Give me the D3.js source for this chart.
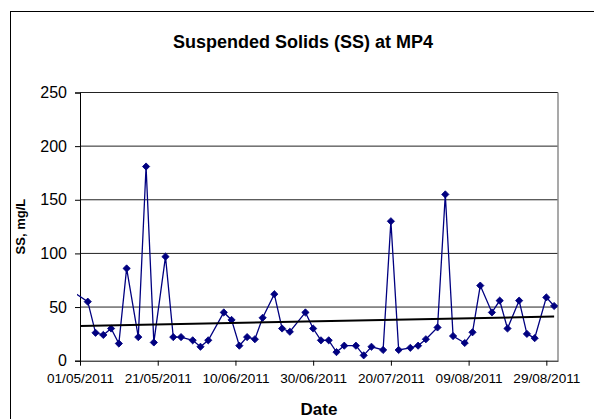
<!DOCTYPE html>
<html>
<head>
<meta charset="utf-8">
<script src="https://cdn.jsdelivr.net/npm/d3@7"></script>
<style>
  body { margin: 0; background: #fff; }
  text { font-family: Arial, "Liberation Sans", sans-serif; fill: #000; }
</style>
</head>
<body>
<div id="chart"></div>
<script>
// sample dates (first one lies before the axis start and is clipped)
const sampleDates = [
  "28/04/2011", "03/05/2011", "05/05/2011", "07/05/2011", "09/05/2011", "11/05/2011",
  "13/05/2011", "16/05/2011", "18/05/2011", "20/05/2011", "23/05/2011", "25/05/2011",
  "27/05/2011", "30/05/2011", "01/06/2011", "03/06/2011", "07/06/2011", "09/06/2011",
  "11/06/2011", "13/06/2011", "15/06/2011", "17/06/2011", "20/06/2011", "22/06/2011",
  "24/06/2011", "28/06/2011", "30/06/2011", "02/07/2011", "04/07/2011", "06/07/2011",
  "08/07/2011", "11/07/2011", "13/07/2011", "15/07/2011", "18/07/2011", "20/07/2011",
  "22/07/2011", "25/07/2011", "27/07/2011", "29/07/2011", "01/08/2011", "03/08/2011",
  "05/08/2011", "08/08/2011", "10/08/2011", "12/08/2011", "15/08/2011", "17/08/2011",
  "19/08/2011", "22/08/2011", "24/08/2011", "26/08/2011", "29/08/2011", "31/08/2011"
]
const ssValues = [
  67, 55, 26, 24, 30, 16,
  86, 22, 181, 17, 97, 22,
  22, 19, 13, 19, 45, 38,
  14, 22, 20, 40, 62, 30,
  27, 45, 30, 19, 19, 8,
  14, 14, 5, 13, 10, 130,
  10, 12, 14, 20, 31, 155,
  23, 16.5, 26.5, 70, 45, 56,
  30, 56, 25, 21, 59, 51
]
// linear trend line end points
const trendDates = ["01/05/2011", "31/08/2011"]
const trendValues = [32.3, 41.1]

const xDomain = ["01/05/2011", "01/09/2011"]
const xTickLabels = ["01/05/2011", "21/05/2011", "10/06/2011", "30/06/2011",
  "20/07/2011", "09/08/2011", "29/08/2011"]
const yTicks = [0, 50, 100, 150, 200, 250]

const W = 594, H = 419
const PLOT = { LEFT: 80, RIGHT: 558, TOP: 92.5, BOTTOM: 360.7 }
const parse = d3.utcParse("%d/%m/%Y")
const fmt = d3.utcFormat("%d/%m/%Y")

const svg = d3.select("#chart").append("svg")
  .attr("width", W)
  .attr("height", H)

// chart area border
svg.append("rect")
  .attr("x", 10.5).attr("y", 11.5)
  .attr("width", 620).attr("height", 430)
  .attr("fill", "#fff")
  .attr("stroke", "#000")
  .attr("stroke-width", 1)

// Scales
const x = d3.scaleUtc()
  .domain(xDomain.map(parse))
  .range([PLOT.LEFT, PLOT.RIGHT])
const y = d3.scaleLinear()
  .domain([0, 250])
  .range([PLOT.BOTTOM, PLOT.TOP])

// Title
svg.append("text")
  .attr("x", 303).attr("y", 48)
  .attr("text-anchor", "middle")
  .attr("font-size", "18px")
  .attr("font-weight", "bold")
  .text("Suspended Solids (SS) at MP4")

// gridlines
svg.append("g")
  .selectAll("line")
  .data(yTicks.filter(d => d > 0))
  .enter().append("line")
    .attr("x1", PLOT.LEFT).attr("x2", PLOT.RIGHT)
    .attr("y1", d => y(d)).attr("y2", d => y(d))
    .attr("stroke", "#222")
    .attr("stroke-width", 1)

// plot area right border
svg.append("line")
  .attr("x1", PLOT.RIGHT).attr("x2", PLOT.RIGHT)
  .attr("y1", PLOT.TOP).attr("y2", PLOT.BOTTOM)
  .attr("stroke", "#8c8c8c")
  .attr("stroke-width", 1.5)

// Y Axis
const yAxisCall = d3.axisLeft(y)
  .tickValues(yTicks)
  .tickSize(5)
  .tickPadding(8)
const yAxis = svg.append("g")
  .attr("class", "y axis")
  .attr("transform", `translate(${PLOT.LEFT}, 0)`)
  .call(yAxisCall)
yAxis.select(".domain").attr("stroke", "#000")
yAxis.selectAll("text")
  .attr("font-size", "16px")
  .attr("font-family", "Arial, 'Liberation Sans', sans-serif")

// X Axis
const xAxisCall = d3.axisBottom(x)
  .tickValues(xTickLabels.map(parse))
  .tickFormat(fmt)
  .tickSize(5)
  .tickSizeOuter(0)
  .tickPadding(8)
const xAxis = svg.append("g")
  .attr("class", "x axis")
  .attr("transform", `translate(0, ${PLOT.BOTTOM})`)
  .call(xAxisCall)
xAxis.selectAll("text")
  .attr("font-size", "13.6px")
  .attr("font-family", "Arial, 'Liberation Sans', sans-serif")

// axis titles
svg.append("text")
  .attr("x", (PLOT.LEFT + PLOT.RIGHT) / 2)
  .attr("y", 415)
  .attr("text-anchor", "middle")
  .attr("font-size", "17px")
  .attr("font-weight", "bold")
  .text("Date")
svg.append("text")
  .attr("transform", `translate(25, ${(PLOT.TOP + PLOT.BOTTOM) / 2}) rotate(-90)`)
  .attr("text-anchor", "middle")
  .attr("font-size", "13px")
  .attr("font-weight", "bold")
  .text("SS, mg/L")

// clip for the series
svg.append("clipPath").attr("id", "plotClip")
  .append("rect")
  .attr("x", PLOT.LEFT - 3).attr("y", PLOT.TOP)
  .attr("width", PLOT.RIGHT - PLOT.LEFT + 3)
  .attr("height", PLOT.BOTTOM - PLOT.TOP)

const data = sampleDates.map((d, i) => ({ date: parse(d), value: ssValues[i] }))
const trend = trendDates.map((d, i) => ({ date: parse(d), value: trendValues[i] }))

const line = d3.line()
  .x(d => x(d.date))
  .y(d => y(d.value))

const series = svg.append("g").attr("clip-path", "url(#plotClip)")

series.append("path")
  .datum(data)
  .attr("fill", "none")
  .attr("stroke", "#000080")
  .attr("stroke-width", 1.3)
  .attr("d", line)

// square markers turned 45 degrees, like Excel's diamonds
series.selectAll("path.marker")
  .data(data.filter(d => d.date >= x.domain()[0]))
  .enter().append("path")
    .attr("class", "marker")
    .attr("transform", d => `translate(${x(d.date)}, ${y(d.value)}) rotate(45)`)
    .attr("d", d3.symbol().type(d3.symbolSquare).size(26))
    .attr("fill", "#000080")
    .attr("stroke", "#000080")
    .attr("stroke-width", 0.8)

// linear trend
svg.append("path")
  .datum(trend)
  .attr("fill", "none")
  .attr("stroke", "#000")
  .attr("stroke-width", 2)
  .attr("d", line)
</script>
</body>
</html>
